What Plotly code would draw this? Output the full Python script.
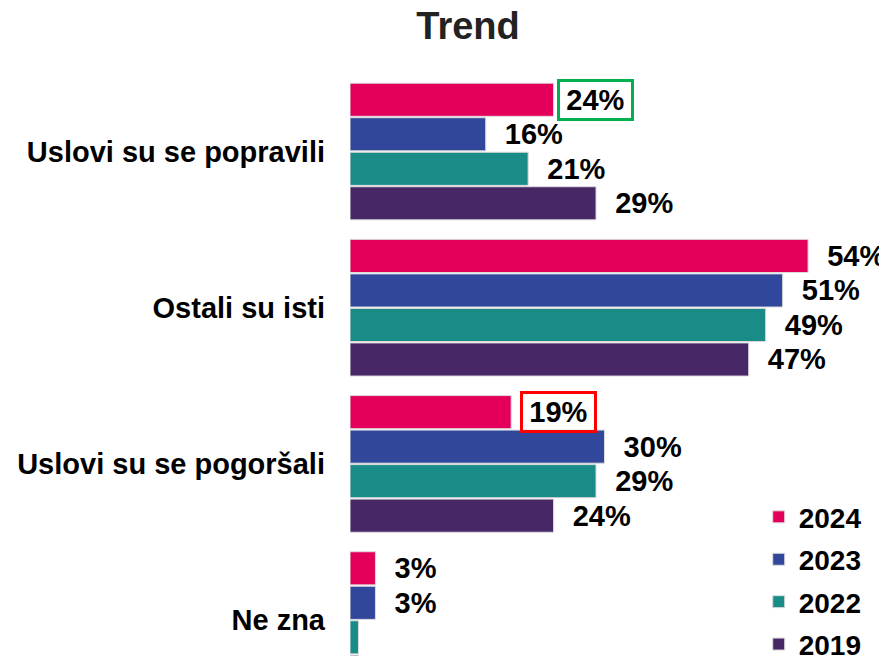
import plotly.graph_objects as go

categories = ["Uslovi su se popravili", "Ostali su isti", "Uslovi su se pogoršali", "Ne zna"]
series_names = ["2024", "2023", "2022", "2019"]
values_2024 = [24, 54, 19, 3]
values_2023 = [16, 51, 30, 3]
values_2022 = [21, 49, 29, 1]
values_2019 = [29, 47, 24, 1]
colors = ["#E4005A", "#30479C", "#198C87", "#472766"]

all_values = [values_2024, values_2023, values_2022, values_2019]
# labels hidden in bars (boxed ones drawn separately, tiny bars unlabeled)
hidden = {("2024", 0), ("2024", 2), ("2022", 3), ("2019", 3)}

FONT = "Liberation Sans, Arial"
NB = "\u00a0\u00a0"
fig = go.Figure()
for name, vals, col in zip(series_names, all_values, colors):
    texts = ["" if (name, i) in hidden else f"{NB}{v}%" for i, v in enumerate(vals)]
    fig.add_trace(go.Bar(
        y=categories, x=vals, name=name, orientation="h",
        marker=dict(color=col, line=dict(color="#dcdcdc", width=1)),
        text=texts, textposition="outside", constraintext="none",
        textfont=dict(family=FONT, size=29, color="black", weight="bold"),
        cliponaxis=False, legendgroup=name,
    ))

bargap = 0.116
slot = (1 - bargap) / 4
first_offset = -(1 - bargap) / 2 + slot / 2

fig.add_annotation(x=values_2024[0], y=0 + first_offset, xref="x", yref="y",
                   text=f"{values_2024[0]}%", showarrow=False, xanchor="left", yanchor="middle",
                   xshift=3, width=67, height=32, borderpad=2, borderwidth=3,
                   bordercolor="#00B050",
                   font=dict(family=FONT, size=29, color="black", weight="bold"))
fig.add_annotation(x=values_2024[2], y=2 + first_offset, xref="x", yref="y",
                   text=f"{values_2024[2]}%", showarrow=False, xanchor="left", yanchor="middle",
                   xshift=9, width=67, height=32, borderpad=2, borderwidth=3,
                   bordercolor="#FF0000",
                   font=dict(family=FONT, size=29, color="black", weight="bold"))

fig.update_layout(
    width=879, height=648,
    margin=dict(l=342, r=28, t=67, b=0, autoexpand=False),
    paper_bgcolor="white", plot_bgcolor="white",
    barmode="group", bargap=bargap, bargroupgap=0.04,
    title=dict(text="Trend", x=460 / 879, xanchor="center", y=0.972, yanchor="middle",
               font=dict(family=FONT, size=38, color="#222222", weight="bold")),
    showlegend=True,
    legend=dict(x=0.803, xanchor="left", y=0.282, yanchor="top",
                font=dict(family=FONT, size=28, color="black", weight="bold"),
                bgcolor="rgba(0,0,0,0)", tracegroupgap=3, traceorder="grouped",
                itemwidth=30),
    xaxis=dict(range=[0, 60], visible=False, showgrid=False, zeroline=False),
    yaxis=dict(type="category", range=[3.23, -0.49], showgrid=False, zeroline=False,
               showline=False, ticks="", ticklabelstandoff=24,
               tickfont=dict(family=FONT, size=29, color="black", weight="bold")),
)

fig.write_html("out.html")
